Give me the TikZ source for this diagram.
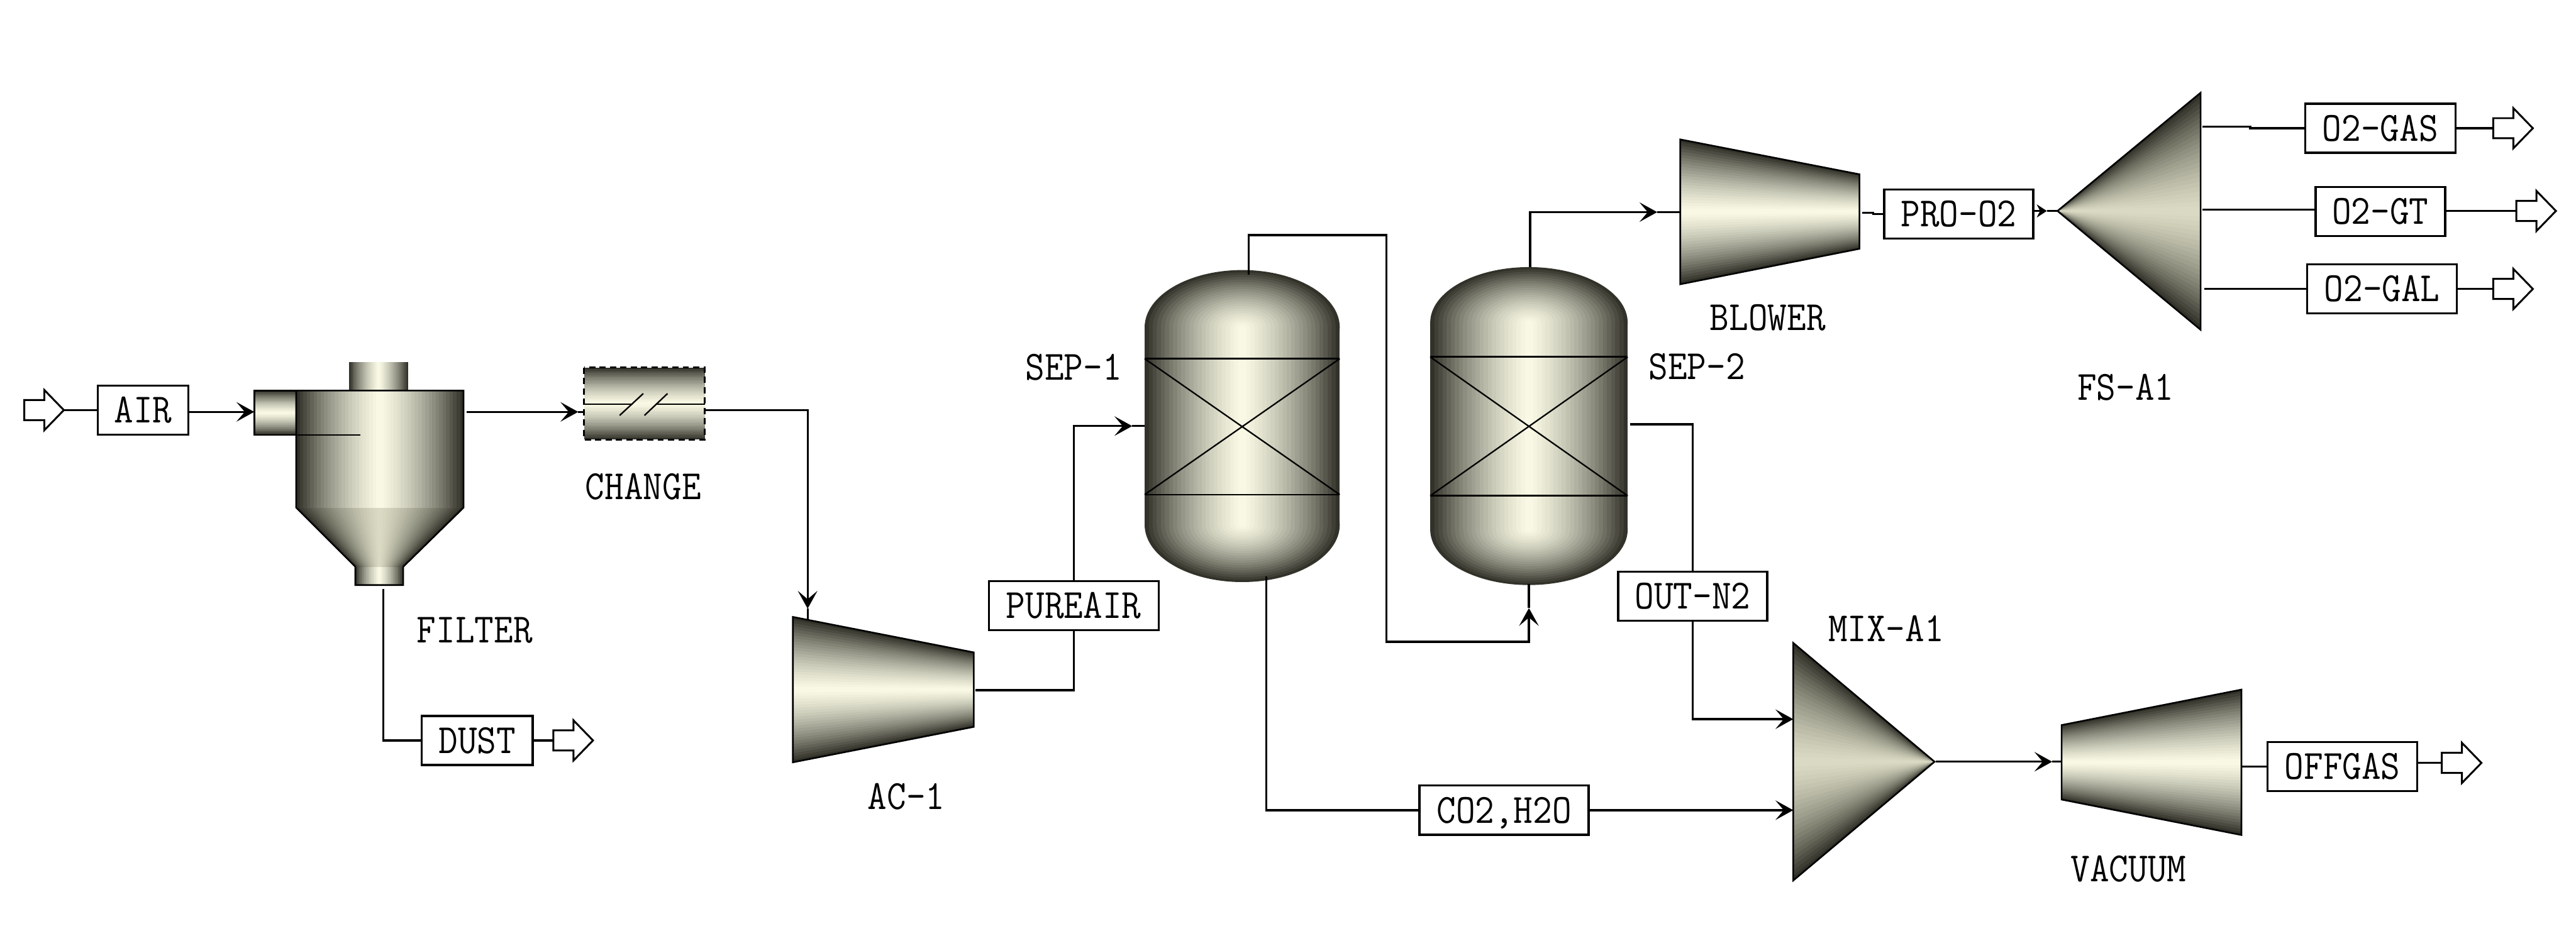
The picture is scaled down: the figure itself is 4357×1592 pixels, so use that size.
\documentclass[tikz,border=0pt]{standalone}
\usepackage{fontspec}
\setmonofont[FakeStretch=0.9]{Latin Modern Mono}
\usetikzlibrary{arrows.meta}

\definecolor{rimcol}{HTML}{32322A}
\definecolor{litecol}{HTML}{F8F8E4}
\definecolor{dimcol}{HTML}{DADAC4}

\tikzset{
    stream/.style={draw=black, line width=1pt},
    streambox/.style={draw=black, line width=1pt, fill=white, inner sep=0pt, outer sep=0pt,
        minimum height=0.83cm, text height=0.43cm, text depth=0pt,
        font=\ttfamily\fontsize{20}{20}\selectfont},
    blocktag/.style={inner sep=0pt, text height=0.43cm, text depth=0pt,
        font=\ttfamily\fontsize{20}{20}\selectfont},
    portarrow/.style={draw=black, line width=0.9pt, fill=white},
    outline/.style={draw=black, line width=0.8pt}
}

% bands run from the middle line to the two slanted edges
\newcommand{\shadeacross}[7][litecol]{%
    \foreach \k in {0,...,23}{
        \pgfmathsetmacro{\sf}{1-\k/24}
        \pgfmathsetmacro{\pc}{100*(\k/23)*(1.5-0.5*\k/23)}
        \pgfmathsetmacro{\ca}{(#3+#4)/2}
        \pgfmathsetmacro{\cb}{(#6+#7)/2}
        \fill[#1!\pc!rimcol] (#2,\ca+\sf*#3-\sf*\ca) -- (#5,\cb+\sf*#6-\sf*\cb)
            -- (#5,\cb+\sf*#7-\sf*\cb) -- (#2,\ca+\sf*#4-\sf*\ca) -- cycle;
    }
}
\newcommand{\shadedown}[7][litecol]{%
    \foreach \k in {0,...,23}{
        \pgfmathsetmacro{\sf}{1-\k/24}
        \pgfmathsetmacro{\pc}{100*(\k/23)*(1.5-0.5*\k/23)}
        \pgfmathsetmacro{\ca}{(#3+#4)/2}
        \pgfmathsetmacro{\cb}{(#6+#7)/2}
        \fill[#1!\pc!rimcol] (\ca+\sf*#3-\sf*\ca,#2) -- (\ca+\sf*#4-\sf*\ca,#2)
            -- (\cb+\sf*#7-\sf*\cb,#5) -- (\cb+\sf*#6-\sf*\cb,#5) -- cycle;
    }
}
\newcommand{\shadehead}[4]{%
    \foreach \k in {0,...,23}{
        \pgfmathsetmacro{\sf}{1-\k/24}
        \pgfmathsetmacro{\pc}{100*(\k/23)*(1.5-0.5*\k/23)}
        \fill[litecol!\pc!rimcol] (#1,#2) ellipse [x radius=\sf*#3, y radius=\sf*#4];
    }
}

\begin{document}
\begin{tikzpicture}[x=0.01cm, y=-0.01cm,
        >={Stealth[length=0.3cm, width=0.33cm, inset=0.14cm]}]
        \useasboundingbox (0,0) rectangle (4357,1592);

        % filter
        \shadedown{613}{590}{690}{661}{590}{690}
        \shadedown[dimcol]{859}{501}{784}{959}{601}{682}
        \shadedown{959}{601}{682}{990}{601}{682}
        \shadedown{661}{501}{784}{859}{501}{784}
        \shadeacross{430}{661}{736}{501}{661}{736}
        \draw[outline] (501,661) rectangle (430,736);
        \draw[outline] (501,661) -- (784,661) -- (784,859) -- (682,959) -- (682,990)
            -- (601,990) -- (601,959) -- (501,859) -- cycle;
        \draw[outline] (501,736) -- (609,736);

        % heater
        \shadeacross{988}{622}{744}{1192}{622}{744}
        \draw[black, line width=1pt, densely dashed] (988,622) rectangle (1192,744);
        \draw[outline] (988,684) -- (1070,684) (1110,684) -- (1192,684);
        \draw[black, line width=0.7pt] (1048,703) -- (1088,666) (1090,703) -- (1129,666);

        % compressors
        \shadeacross{1341}{1044}{1290}{1647}{1104}{1230}
        \draw[outline] (1341,1044) -- (1647,1104) -- (1647,1230) -- (1341,1290) -- cycle;
        \shadeacross{2842}{236}{481}{3145}{295}{421}
        \draw[outline] (2842,236) -- (3145,295) -- (3145,421) -- (2842,481) -- cycle;
        \shadeacross{3487}{1227}{1353}{3791}{1167}{1413}
        \draw[outline] (3487,1227) -- (3791,1167) -- (3791,1413) -- (3487,1353) -- cycle;

        % vessels
        \shadehead{2101}{554}{165}{97}
        \shadehead{2101}{888}{165}{97}
        \shadedown{554}{1936}{2266}{888}{1936}{2266}
        \draw[outline] (1936,607) -- (2266,607) (1936,837) -- (2266,837);
        \draw[black, line width=0.7pt] (1936,607) -- (2266,837) (1936,837) -- (2266,607);
        \shadehead{2586}{546}{167}{94}
        \shadehead{2586}{896}{167}{94}
        \shadedown{546}{2419}{2753}{896}{2419}{2753}
        \draw[outline] (2419,604) -- (2753,604) (2419,839) -- (2753,839);
        \draw[black, line width=0.7pt] (2419,604) -- (2753,839) (2419,839) -- (2753,604);

        % mixer and splitter
        \shadeacross[dimcol]{3033}{1088}{1490}{3272}{1289}{1289}
        \draw[outline] (3033,1088) -- (3272,1289) -- (3033,1490) -- cycle;
        \shadeacross[dimcol]{3480}{357}{357}{3722}{157}{558}
        \draw[outline] (3480,357) -- (3722,157) -- (3722,558) -- cycle;

        % block names
        \node[blocktag] (filtertag) at (803,1066) {FILTER};
        \node[blocktag] (changetag) at (1088,824) {CHANGE};
        \node[blocktag] (ac1tag) at (1533,1348) {AC-1};
        \node[blocktag] (sep1tag) at (1816,621) {SEP-1};
        \node[blocktag] (sep2tag) at (2870,620) {SEP-2};
        \node[blocktag] (blowertag) at (2990,538) {BLOWER};
        \node[blocktag] (fstag) at (3595,656) {FS-A1};
        \node[blocktag] (mixtag) at (3190,1064) {MIX-A1};
        \node[blocktag] (vacuumtag) at (3600,1470) {VACUUM};

        % stream boxes
        \node[streambox, minimum width=1.53cm] (air) at (242,694) {AIR};
        \node[streambox, minimum width=1.88cm] (dust) at (807,1253) {DUST};
        \node[streambox, minimum width=2.87cm] (pureair) at (1816,1025) {PUREAIR};
        \node[streambox, minimum width=2.86cm] (co2h2o) at (2544,1371) {CO2,H2O};
        \node[streambox, minimum width=2.52cm] (outn2) at (2863,1009) {OUT-N2};
        \node[streambox, minimum width=2.52cm] (proo2) at (3313,362) {PRO-O2};
        \node[streambox, minimum width=2.54cm] (o2gas) at (4026,217) {O2-GAS};
        \node[streambox, minimum width=2.19cm] (o2gt) at (4026,358) {O2-GT};
        \node[streambox, minimum width=2.53cm] (o2gal) at (4029,489) {O2-GAL};
        \node[streambox, minimum width=2.53cm] (offgas) at (3962,1297) {OFFGAS};

        % ports
        \coordinate (filterin) at (430,697);
        \coordinate (filtertop) at (789,697);
        \coordinate (filterbot) at (648,997);
        \coordinate (changein) at (988,697);
        \coordinate (changetip) at (978,697);
        \coordinate (changeout) at (1192,694);
        \coordinate (ac1tip) at (1366,1030);
        \coordinate (ac1in) at (1366,1049);
        \coordinate (ac1out) at (1650,1168);
        \coordinate (sep1tip) at (1915,721);
        \coordinate (sep1in) at (1936,721);
        \coordinate (sep1top) at (2112,465);
        \coordinate (sep1bot) at (2142,975);
        \coordinate (sep2tip) at (2586,1029);
        \coordinate (sep2in) at (2586,988);
        \coordinate (sep2top) at (2588,452);
        \coordinate (sep2out) at (2757,718);
        \coordinate (blowertip) at (2803,359);
        \coordinate (blowerin) at (2842,359);
        \coordinate (blowerout) at (3150,360);
        \coordinate (fstip) at (3462,357);
        \coordinate (fsin) at (3480,357);
        \coordinate (fsout1) at (3725,214);
        \coordinate (fsout2) at (3725,355);
        \coordinate (fsout3) at (3728,489);
        \coordinate (mixin1) at (3033,1217);
        \coordinate (mixin2) at (3033,1371);
        \coordinate (mixout) at (3274,1289);
        \coordinate (vacuumtip) at (3471,1289);
        \coordinate (vacuumin) at (3487,1289);
        \coordinate (vacuumout) at (3791,1297);

        % feed and product arrows
        \foreach \nm/\x/\y in {feed/41/694, dustport/936/1253, gasport/4217/217, gtport/4256/357,
                galport/4217/489, offport/4130/1291}{
            \coordinate (\nm) at (\x,\y);
            \draw[portarrow] (\x,\y) ++(0,-17) -- ++(34,0) -- ++(0,-17) -- ++(33,34)
                -- ++(-33,34) -- ++(0,-17) -- ++(-34,0) -- cycle;
        }
        \coordinate (feedtip) at (108,694);

        % streams
        \draw[stream] (feedtip) -- (air);
        \draw[stream, ->] (air.east |- filterin) -- (filterin);
        \draw[stream, ->] (filtertop) -- (changetip);
        \draw[stream] (changetip) -- (changein);
        \draw[stream, ->] (changeout) -| (ac1tip);
        \draw[stream] (ac1tip) -- (ac1in);
        \draw[stream] (filterbot) |- (dust);
        \draw[stream] (dust) -- (dustport);
        \draw[stream] (ac1out) -| (pureair);
        \draw[stream, ->] (pureair) |- (sep1tip);
        \draw[stream] (sep1tip) -- (sep1in);
        \draw[stream, ->] (sep1top) -- (2112,398) -- (2345,398) -- (2345,1086) -- (2586,1086) -- (sep2tip);
        \draw[stream] (sep2tip) -- (sep2in);
        \draw[stream] (sep1bot) |- (co2h2o);
        \draw[stream, ->] (co2h2o) -- (mixin2);
        \draw[stream] (sep2out) -| (outn2);
        \draw[stream, ->] (outn2) |- (mixin1);
        \draw[stream, ->] (sep2top) |- (blowertip);
        \draw[stream] (blowertip) -- (blowerin);
        \draw[stream] (blowerout) -- ++(18,0) -- ++(0,2) -- (proo2);
        \draw[stream, -{Stealth[length=0.17cm, width=0.22cm]}] (proo2.east |- fsin) -- (fstip);
        \draw[stream] (fstip) -- (fsin);
        \draw[stream] (fsout1) -- ++(81,0) -- ++(0,3) -- (o2gas);
        \draw[stream] (fsout2) -- (o2gt.west |- fsout2);
        \draw[stream] (fsout3) -- (o2gal);
        \draw[stream] (o2gas) -- (gasport);
        \draw[stream] (o2gt.east |- gtport) -- (gtport);
        \draw[stream] (o2gal) -- (galport);
        \draw[stream, ->] (mixout) -- (vacuumtip);
        \draw[stream] (vacuumtip) -- (vacuumin);
        \draw[stream] (vacuumout) -- (offgas);
        \draw[stream] (offgas.east |- offport) -- (offport);
    \end{tikzpicture}
\end{document}
